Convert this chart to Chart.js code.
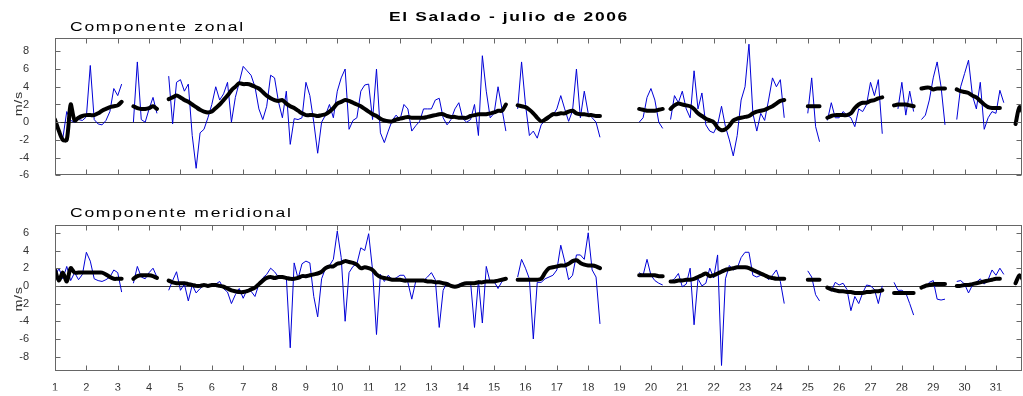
<!DOCTYPE html>
<html><head><meta charset="utf-8">
<script src="https://cdn.jsdelivr.net/npm/chart.js@4.4.0/dist/chart.umd.min.js"></script>
<style>
html,body{margin:0;padding:0;background:#fff;overflow:hidden}
#wrap{position:relative;width:1023px;height:396px;background:#fff}
canvas{position:absolute;left:0;display:block}
#c1{top:0}
#c2{top:200px}
</style></head><body>
<div id="wrap">
<canvas id="c1" width="1023" height="200"></canvas>
<canvas id="c2" width="1023" height="196"></canvas>
</div>
<script>
const _ = null;
const dayTicks = [1,2,3,4,5,6,7,8,9,10,11,12,13,14,15,16,17,18,19,20,21,22,23,24,25,26,27,28,29,30,31];
const zonalTicks = [-6,-4,-2,0,2,4,6,8];
const meridTicks = [-8,-6,-4,-2,0,2,4,6];
const samplesPerDay = 8; // 3-hourly samples starting 1 July 00h

// Componente zonal, 3-hourly values (m/s), one row per day
const zonalBlue = [
 0.3,-1.0,-1.8, 1.2, 0.2, 0.0, 0.3, 0.2,
 0.6, 6.4, 0.3,-0.2,-0.3, 0.2, 1.2, 3.8,
 3.0, 4.3,   _,   _, 0.0, 6.8, 0.3, 0.0,
 1.5, 2.8, 1.0,   _,   _, 5.2,-0.2, 4.5,
 4.8, 3.5, 4.3,-1.5,-5.2,-1.2,-0.8, 0.5,
 2.0, 4.0, 2.5, 3.2, 4.5, 0.0, 2.8, 4.5,
 6.3, 5.8, 5.3, 4.0, 1.5, 0.3, 1.8, 5.3,
 5.0, 2.3, 0.5, 3.5,-2.5, 0.4, 0.3, 0.5,
 4.5, 3.0, 0.0,-3.5, 0.0, 0.8, 2.0, 0.5,
 3.5, 5.0, 6.0,-0.8, 0.2, 0.5, 3.5, 4.2,
 4.3, 0.3, 6.0,-1.2,-2.3,-1.0, 0.2, 0.8,
 0.3, 2.0, 1.5,-1.0,-0.4, 0.1, 1.5, 1.5,
 1.5, 2.5, 2.7, 0.5,-0.3, 0.3, 1.5, 2.2,
 0.4, 0.0, 0.3, 2.0,-1.5, 7.5, 3.5, 0.5,
 1.0, 4.0, 1.5,-1.0,   _,   _, 1.5, 6.8,
 2.0,-1.5,-1.0,-1.8,-0.3, 0.2, 0.4, 0.8,
 1.5, 3.0, 1.5, 0.1, 1.3, 6.0, 0.5, 3.5,
 1.0, 0.5, 0.0,-1.7,   _,   _,   _,   _,
   _,   _,   _,   _,   _, 0.0, 0.5, 2.8,
 3.8, 2.5, 0.0,-0.7,   _, 0.3, 3.0, 2.2,
 3.5, 1.5, 0.5, 5.8, 1.5, 3.3,-0.3,-1.0,
-1.2,-0.3, 1.8,-0.5,-2.0,-3.8,-1.5, 2.5,
 4.0, 8.8, 1.0,-1.0, 1.0, 0.2, 2.5, 5.0,
 4.0, 4.8, 0.5,   _,   _,   _,   _,   _,
 1.0, 5.0,-0.5,-2.2,   _, 0.2, 2.2, 0.5,
 0.5, 1.2, 0.8, 0.5,-0.5, 1.5, 1.2, 2.0,
 4.5, 3.0, 4.8,-1.3,   _,   _,   _, 1.5,
 4.5, 0.8, 3.5, 1.2,   _, 0.3, 0.8, 2.5,
 5.0, 6.8, 4.0,-0.3,   _,   _, 0.3, 4.0,
 5.5, 7.0, 3.0, 1.5, 4.5,-0.8, 0.5, 1.2,
 1.0, 3.6, 2.2,   _,   _,   _,   _,   _
];
// Componente zonal, running mean (m/s)
const zonalMean = [
 0.3,-1.0,-2.0,-2.0, 2.0, 0.2, 0.5, 0.7,
 0.8, 0.8, 0.8, 1.0, 1.3, 1.5, 1.7, 1.8,
 1.9, 2.3,   _,   _, 1.8, 1.6, 1.5, 1.5,
 1.6, 1.8, 1.5,   _,   _, 2.6, 2.8, 3.0,
 2.8, 2.5, 2.3, 2.0, 1.7, 1.4, 1.2, 1.1,
 1.2, 1.6, 2.0, 2.5, 3.0, 3.6, 4.0, 4.4,
 4.3, 4.3, 4.2, 4.0, 3.8, 3.4, 3.0, 2.7,
 2.5, 2.4, 2.5, 2.1, 1.8, 1.6, 1.3, 1.0,
 0.8, 0.8, 0.8, 0.7, 0.8, 0.9, 1.2, 1.6,
 2.1, 2.3, 2.5, 2.4, 2.2, 2.0, 1.8, 1.5,
 1.2, 0.9, 0.7, 0.4, 0.2, 0.1, 0.1, 0.3,
 0.4, 0.5, 0.6, 0.5, 0.5, 0.5, 0.5, 0.6,
 0.7, 0.8, 0.9, 0.9, 0.7, 0.6, 0.6, 0.5,
 0.5, 0.5, 0.7, 0.8, 0.9, 0.9, 0.9, 1.0,
 1.1, 1.3, 1.3, 2.0,   _,   _, 1.9, 1.8,
 1.7, 1.4, 1.0, 0.5, 0.1, 0.3, 0.6, 0.9,
 0.9, 1.0, 1.0, 1.2, 1.3, 1.0, 0.9, 0.9,
 0.8, 0.8, 0.7, 0.7,   _,   _,   _,   _,
   _,   _,   _,   _,   _, 1.5, 1.4, 1.3,
 1.3, 1.3, 1.4, 1.5,   _, 1.5, 1.9, 2.1,
 2.0, 1.9, 1.8, 1.5, 1.0, 0.7, 0.4, 0.2,
 0.0,-0.6,-0.9,-0.8,-0.4, 0.2, 0.4, 0.5,
 0.6, 0.7, 1.0, 1.2, 1.3, 1.4, 1.6, 1.8,
 2.1, 2.4, 2.5,   _,   _,   _,   _,   _,
 1.8, 1.8, 1.8, 1.8,   _, 0.5, 0.7, 0.8,
 0.8, 0.8, 0.8, 1.0, 1.6, 2.0, 2.2, 2.2,
 2.4, 2.5, 2.7, 2.8,   _,   _, 1.9, 2.0,
 2.0, 2.0, 1.9, 1.8,   _, 3.8, 3.9, 3.9,
 3.7, 3.8, 3.8, 3.8,   _,   _, 3.7, 3.5,
 3.4, 3.3, 3.0, 2.8, 2.4, 2.0, 1.7, 1.6,
 1.6, 1.6,   _,   _,   _,-0.2, 1.7, 1.0
];
// Componente meridional, 3-hourly values (m/s)
const meridBlue = [
 1.0, 2.0, 0.8, 2.2, 0.6, 1.5, 0.7, 1.3,
 3.8, 2.8, 0.8, 0.6, 0.5, 0.7, 1.0, 1.8,
 1.5,-0.7,   _,   _, 0.3, 2.2, 1.0, 0.8,
 1.5, 2.0, 1.0,   _,   _,-0.5, 0.6, 1.6,
-0.5, 0.2,-1.7, 0.1,-0.8,-0.3, 0.1,-0.1,
 0.2, 0.2, 0.5,-0.3,-0.7,-2.0,-1.0,-0.3,
-1.4,-0.4,-0.6,-1.2, 0.2, 0.9, 1.3, 2.0,
 1.6, 1.0, 0.9, 1.0,-7.0, 2.6, 0.8, 2.5,
 2.8, 2.6,-1.2,-3.5, 0.8, 2.0, 2.3, 3.0,
 6.2, 3.2,-4.0, 1.5, 2.2, 2.5, 4.3, 4.0,
 5.9, 1.8,-5.5, 1.3, 0.5, 1.2, 0.7, 0.9,
 1.2, 1.2, 0.4,-1.5, 0.5, 0.5, 0.6, 1.0,
 1.5, 0.7,-4.7,-0.5, 0.4, 0.1,-0.2, 0.2,
 0.3, 0.3, 0.4,-4.7, 0.6,-4.2, 2.2, 0.4,
 0.5,-0.3, 0.5, 0.9,   _,   _, 1.0, 3.0,
 2.0, 0.8,-6.0, 0.4, 0.4, 0.8, 1.0, 1.2,
 1.8, 4.6, 2.8, 0.7, 1.2, 3.5, 3.5, 3.0,
 6.0, 1.8, 1.0,-4.3,   _,   _,   _,   _,
   _,   _,   _,   _,   _, 1.5, 1.2, 3.0,
 1.2, 0.6, 0.3, 0.1,   _, 0.5, 0.8, 1.4,
-0.1, 0.2, 2.0,-4.4, 0.8, 0.0, 0.3, 2.0,
 0.9, 3.5,-9.0, 0.8, 2.3, 1.8, 2.0, 3.2,
 3.8, 3.8, 1.2, 1.0, 1.2, 1.2, 0.7, 1.2,
 1.8, 0.5,-2.0,   _,   _,   _,   _,   _,
 1.7, 1.0,-1.0,-1.7,   _,-0.2,-0.6, 0.4,
 0.1, 0.3,-0.4,-2.8,-1.2,-2.0,-0.8, 0.1,
 0.0,-0.4,-2.0, 0.0,   _,   _, 0.4,-0.5,
-0.5,-0.8,-2.0,-3.3,   _,-0.2,-0.2, 0.4,
 0.6,-1.5,-1.6,-1.5,   _,   _, 0.5, 0.6,
 0.2,-0.8, 0.1, 0.4, 0.8, 0.2, 0.7, 1.8,
 1.2, 2.0, 1.3,   _,   _,   _,   _,   _
];
// Componente meridional, running mean (m/s)
const meridMean = [
 1.8, 0.6, 1.5, 0.5, 2.0, 1.5, 1.5, 1.5,
 1.5, 1.5, 1.5, 1.5, 1.5, 1.3, 1.0, 0.8,
 0.8, 0.8,   _,   _, 0.8, 1.1, 1.2, 1.2,
 1.2, 1.1, 0.9,   _,   _, 0.6, 0.4, 0.3,
 0.3, 0.3, 0.2, 0.1, 0.0, 0.0, 0.1, 0.0,
 0.1, 0.1, 0.0,-0.1,-0.3,-0.5,-0.6,-0.7,
-0.7,-0.6,-0.4,-0.2, 0.2, 0.6, 0.9, 1.0,
 0.9, 1.0, 1.0, 0.9, 0.8, 0.8, 0.9, 1.1,
 1.1, 1.2, 1.3, 1.4, 1.6, 2.0, 2.2, 2.2,
 2.5, 2.6, 2.8, 2.7, 2.6, 2.4, 2.0, 2.1,
 2.0, 1.8, 1.3, 1.0, 0.9, 0.8, 0.7, 0.7,
 0.7, 0.6, 0.6, 0.6, 0.6, 0.6, 0.6, 0.5,
 0.5, 0.4, 0.4, 0.3, 0.2, 0.0,-0.1, 0.0,
 0.2, 0.3, 0.3, 0.3, 0.4, 0.4, 0.5, 0.5,
 0.5, 0.6, 0.7, 0.8,   _,   _, 0.7, 0.7,
 0.7, 0.7, 0.7, 0.7, 0.8, 1.5, 2.0, 2.1,
 2.2, 2.3, 2.3, 2.5, 2.8, 2.9, 2.6, 2.4,
 2.3, 2.3, 2.2, 2.0,   _,   _,   _,   _,
   _,   _,   _,   _,   _, 1.2, 1.2, 1.2,
 1.2, 1.2, 1.1, 1.1,   _, 0.5, 0.5, 0.6,
 0.6, 0.7, 0.7, 0.8, 1.0, 1.2, 1.4, 1.1,
 1.2, 1.4, 1.6, 1.8, 1.9, 2.0, 2.1, 2.1,
 2.1, 2.0, 1.8, 1.6, 1.4, 1.2, 1.0, 0.9,
 0.8, 0.8, 0.8,   _,   _,   _,   _,   _,
 0.7, 0.7, 0.7, 0.7,   _,-0.2,-0.4,-0.5,
-0.6,-0.6,-0.7,-0.7,-0.8,-0.8,-0.8,-0.7,
-0.7,-0.6,-0.6,-0.5,   _,   _,-0.8,-0.8,
-0.8,-0.8,-0.8,-0.8,   _,-0.2, 0.0, 0.1,
 0.2, 0.2, 0.2, 0.2,   _,   _, 0.0, 0.0,
 0.1, 0.1, 0.2, 0.3, 0.4, 0.5, 0.6, 0.7,
 0.8, 0.8,   _,   _,   _, 0.3, 1.2, 0.6
];

const FONT = '"Liberation Sans", Arial, Helvetica, sans-serif';

function drawText(ctx, t) {
  ctx.save();
  ctx.translate(t.x, t.y);
  if (t.rot) ctx.rotate(t.rot);
  ctx.scale(t.sx || 1, 1);
  ctx.font = t.font;
  ctx.fillStyle = t.color || '#000';
  ctx.textAlign = t.align || 'left';
  ctx.textBaseline = 'alphabetic';
  if ('letterSpacing' in ctx) ctx.letterSpacing = (t.ls || 0) + 'px';
  ctx.fillText(t.text, 0, 0);
  ctx.restore();
}

const framePlugin = {
  id: 'frame',
  beforeDatasetsDraw(chart) {
    const {ctx, chartArea: a, scales: {y}} = chart;
    const y0 = Math.round(y.getPixelForValue(0)) + 0.5;
    ctx.save();
    ctx.strokeStyle = '#333'; ctx.lineWidth = 1;
    ctx.beginPath(); ctx.moveTo(a.left, y0); ctx.lineTo(a.right, y0); ctx.stroke();
    ctx.restore();
  },
  afterDatasetsDraw(chart, args, opts) {
    const {ctx, chartArea: a, scales: {x, y}} = chart;
    ctx.save();
    ctx.strokeStyle = '#666'; ctx.lineWidth = 1;
    const L = Math.round(a.left) + 0.5, R = Math.round(a.right) - 0.5;
    const T = Math.round(a.top) + 0.5, B = Math.round(a.bottom) - 0.5;
    ctx.strokeRect(L, T, R - L, B - T);
    const len = 5;
    ctx.beginPath();
    x.ticks.forEach(t => {
      const px = Math.round(x.getPixelForValue(t.value)) + 0.5;
      ctx.moveTo(px, T); ctx.lineTo(px, T + len);
      ctx.moveTo(px, B); ctx.lineTo(px, B - len);
    });
    y.ticks.forEach(t => {
      const py = Math.round(y.getPixelForValue(t.value)) + 0.5;
      ctx.moveTo(L, py); ctx.lineTo(L + len, py);
      ctx.moveTo(R, py); ctx.lineTo(R - len, py);
    });
    ctx.stroke();
    ctx.restore();
    (opts.texts || []).forEach(t => {
      const tt = Object.assign({}, t);
      if (t.center) tt.y = (a.top + a.bottom) / 2 + (t.dy || 0);
      drawText(ctx, tt);
    });
  }
};

function makeChart(id, blue, mean, yMin, yMax, yTicks, cfg) {
  const times = blue.map((v, i) => 1 + i / samplesPerDay);
  const pts = arr => arr.map((v, i) => ({x: times[i], y: v}));
  const tickFont = {family: FONT, size: 11};
  return new Chart(document.getElementById(id), {
    type: 'line',
    data: {
      datasets: [
        {data: pts(mean), borderColor: '#000', borderWidth: 4, pointRadius: 0,
         spanGaps: false, tension: 0.3, borderCapStyle: 'round', borderJoinStyle: 'round',
         clip: 0, order: 1},
        {data: pts(blue), borderColor: 'rgb(0,0,215)', borderWidth: 1, pointRadius: 0,
         spanGaps: false, tension: 0, clip: 0, order: 2}
      ]
    },
    options: {
      responsive: false, animation: false, events: [],
      layout: {padding: {top: cfg.top, right: 1, left: 0, bottom: 0}},
      plugins: {
        legend: {display: false}, tooltip: {enabled: false},
        frame: {texts: cfg.texts}
      },
      scales: {
        x: {
          type: 'linear', min: 1, max: 31.83,
          afterBuildTicks: s => { s.ticks = dayTicks.map(v => ({value: v})); },
          afterFit: s => { s.height = cfg.xh; },
          grid: {display: false}, border: {display: false},
          ticks: {display: cfg.showX, autoSkip: false, maxRotation: 0, minRotation: 0,
                  padding: 2, color: '#333', font: tickFont}
        },
        y: {
          type: 'linear', min: yMin, max: yMax,
          afterBuildTicks: s => { s.ticks = yTicks.map(v => ({value: v})); },
          afterFit: s => { s.width = 55; },
          grid: {display: false}, border: {display: false},
          ticks: {autoSkip: false, padding: 18, color: '#333', font: tickFont}
        }
      }
    },
    plugins: [framePlugin]
  });
}

const subFont = '12.5px ' + FONT;
const unitBase = {text: 'm/s', x: 22, center: true, rot: -Math.PI / 2, align: 'center',
                  font: '11px ' + FONT, sx: 1.3, ls: 0.5, color: '#333'};

makeChart('c1', zonalBlue, zonalMean, -6, 9.5, zonalTicks, {
  top: 38, xh: 7, showX: false,
  texts: [
    {text: 'El Salado - julio de 2006', x: 509, y: 21, align: 'center',
     font: 'bold 12px ' + FONT, sx: 1.45, ls: 1.15},
    {text: 'Componente zonal', x: 70, y: 31, font: subFont, sx: 1.4, ls: 1.25},
    Object.assign({}, unitBase, {dy: -3})
  ]
});
makeChart('c2', meridBlue, meridMean, -9.67, 6.93, meridTicks, {
  top: 21, xh: 19, showX: true,
  texts: [
    {text: 'Componente meridional', x: 70, y: 17, font: subFont, sx: 1.4, ls: 1.25},
    Object.assign({}, unitBase, {dy: 1})
  ]
});
</script>
</body></html>
